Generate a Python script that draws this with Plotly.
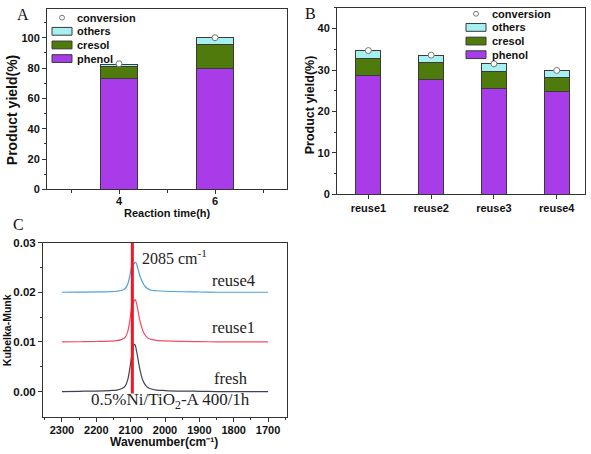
import plotly.graph_objects as go

# ---------------- data ----------------
# Panel A
time_h = [4, 6]
a_phenol = [73.2, 79.6]
a_cresol = [7.9, 16.2]
a_others = [1.3, 4.1]
a_conversion = [82.8, 100.0]

# Panel B
reuse_cats = ["reuse1", "reuse2", "reuse3", "reuse4"]
b_phenol = [28.6, 27.7, 25.6, 24.7]
b_cresol = [4.1, 4.1, 4.0, 3.5]
b_others = [2.0, 1.8, 1.9, 1.6]
b_conversion = [34.7, 33.6, 31.5, 29.9]

# Panel C (DRIFTS spectra)
wavenumber = [2300, 2250, 2200, 2160, 2140, 2125, 2115, 2108, 2102, 2097, 2093, 2090,
              2087, 2084, 2080, 2076, 2072, 2068, 2063, 2057, 2050, 2040, 2025, 2000,
              1950, 1900, 1850, 1800, 1750, 1700]
fresh_km = [0.0, 0.00005, 0.0001, 0.0002, 0.0003, 0.0006, 0.0012, 0.0025, 0.0048, 0.0072,
            0.0088, 0.0095, 0.0094, 0.0086, 0.0071, 0.0055, 0.0041, 0.0030, 0.0020, 0.0013,
            0.0008, 0.0005, 0.0003, 0.0002, 0.0001, 0.00005, 0.0, 0.0, 0.0, 0.0]
reuse1_km = [0.0, 0.00003, 0.00008, 0.00015, 0.00025, 0.0005, 0.001, 0.0022, 0.0045, 0.0070,
             0.0078, 0.0082, 0.0085, 0.0081, 0.0068, 0.0053, 0.0040, 0.0030, 0.0020, 0.0013,
             0.0008, 0.0005, 0.0003, 0.0002, 0.0001, 0.00005, 0.0, 0.0, 0.0, 0.0]
reuse4_km = [0.0, 0.00003, 0.00006, 0.0001, 0.0002, 0.0004, 0.0008, 0.0017, 0.0034, 0.0052,
             0.0055, 0.0057, 0.0060, 0.0059, 0.0050, 0.0040, 0.0031, 0.0024, 0.0017, 0.0011,
             0.0007, 0.0004, 0.0003, 0.0002, 0.0001, 0.00005, 0.0, 0.0, 0.0, 0.0]
spectra_offsets = [0.0, 0.01, 0.02]
peak_line_x = [2095, 2095]
peak_line_y = [-0.0004, 0.03]

# ---------------- style ----------------
W, H = 591, 454
C_PHENOL = "#A83CE8"
C_CRESOL = "#4F7A0C"
C_OTHERS = "#A6F0F2"
C_EDGE = "#3A3A3A"
SANS = "Liberation Sans"
SERIF = "Liberation Serif"
AX = "#333333"


def px(x):
    return x / W


def py(y):
    return 1 - y / H


fig = go.Figure()

# Panel A bars
for name, vals, col in [("phenol", a_phenol, C_PHENOL), ("cresol", a_cresol, C_CRESOL),
                        ("others", a_others, C_OTHERS)]:
    fig.add_trace(go.Bar(x=time_h, y=vals, name=name, marker=dict(color=col, line=dict(color=C_EDGE, width=1)),
                         width=0.78, xaxis="x", yaxis="y", showlegend=False))
fig.add_trace(go.Scatter(x=time_h, y=a_conversion, mode="markers", name="conversion",
                         marker=dict(symbol="circle", size=6, color="white", line=dict(color="#777777", width=1)),
                         xaxis="x", yaxis="y", showlegend=False))

# Panel B bars
for name, vals, col in [("phenol", b_phenol, C_PHENOL), ("cresol", b_cresol, C_CRESOL),
                        ("others", b_others, C_OTHERS)]:
    fig.add_trace(go.Bar(x=reuse_cats, y=vals, name=name, marker=dict(color=col, line=dict(color=C_EDGE, width=1)),
                         width=0.4, xaxis="x2", yaxis="y2", showlegend=False))
fig.add_trace(go.Scatter(x=reuse_cats, y=b_conversion, mode="markers", name="conversion",
                         marker=dict(symbol="circle", size=6, color="white", line=dict(color="#777777", width=1)),
                         xaxis="x2", yaxis="y2", showlegend=False))

# Panel C spectra
for vals, off, col, nm in [(fresh_km, spectra_offsets[0], "#3E4452", "fresh"),
                           (reuse1_km, spectra_offsets[1], "#F04D68", "reuse1"),
                           (reuse4_km, spectra_offsets[2], "#4C9FE0", "reuse4")]:
    fig.add_trace(go.Scatter(x=wavenumber, y=[v + off for v in vals], mode="lines", name=nm,
                             line=dict(color=col, width=1.2, shape="spline"),
                             xaxis="x3", yaxis="y3", showlegend=False))
fig.add_trace(go.Scatter(x=peak_line_x, y=peak_line_y, mode="lines", name="2085",
                         line=dict(color="#F01828", width=3), xaxis="x3", yaxis="y3", showlegend=False))

tickfont = dict(family=SANS, size=11, color="#111111", weight="bold")
common = dict(showline=True, linecolor=AX, linewidth=1, mirror=True, ticks="outside", ticklen=4,
              tickcolor=AX, showgrid=False, zeroline=False, title=None)

fig.update_layout(
    width=W, height=H, margin=dict(l=0, r=0, t=0, b=0),
    paper_bgcolor="white", plot_bgcolor="white", barmode="stack",
    xaxis=dict(domain=[px(47), px(287)], anchor="y", range=[2.5, 7.5], tickvals=time_h,
               ticklabelstandoff=-3, tickfont=tickfont,
               minor=dict(dtick=1, tick0=3, ticks="outside", ticklen=3, tickcolor=AX), **common),
    yaxis=dict(domain=[py(188.3), py(3)], anchor="x", range=[0, 119], dtick=20, tickfont=tickfont,
               minor=dict(dtick=10, ticks="outside", ticklen=2, tickcolor=AX), **common),
    xaxis2=dict(domain=[px(337), px(585)], anchor="y2", range=[-0.5, 3.45], type="category",
                tickfont=tickfont, **common),
    yaxis2=dict(domain=[py(193.3), py(2)], anchor="x2", range=[0, 45], dtick=10, tickfont=tickfont,
                minor=dict(dtick=5, ticks="outside", ticklen=2, tickcolor=AX), **common),
    xaxis3=dict(domain=[px(43), px(287)], anchor="y3", range=[2355, 1645], dtick=100, tickfont=tickfont,
                ticklabelstandoff=-1,
                minor=dict(dtick=50, ticks="outside", ticklen=2, tickcolor=AX), **common),
    yaxis3=dict(domain=[py(422), py(243)], anchor="x3", range=[-0.0051, 0.03], tickvals=[0, 0.01, 0.02, 0.03],
                tickformat=".2f", tickfont=dict(tickfont, size=11.5),
                minor=dict(tickvals=[0.005, 0.015, 0.025], ticks="outside", ticklen=2, tickcolor=AX), **common),
)

# axis titles (placed as annotations for exact positioning)
axis_titles = [
    ("Product yield(%)", 12, 107, 14, -90),
    ("Reaction time(h)", 167, 213, 11, 0),
    ("Product yield(%)", 310, 102, 12.5, -90),
    ("Kubelka-Munk", 7, 333, 10.5, -90),
    ("Wavenumber(cm\u207b\u00b9)", 164, 447.5, 12, 0),
]
for text, x, y, size, ang in axis_titles:
    fig.add_annotation(text=text, xref="paper", yref="paper", x=px(x), y=py(y),
                       xanchor="center", yanchor="middle", showarrow=False, textangle=ang, borderpad=0,
                       font=dict(family=SANS, size=size, color="#111111", weight="bold"))

# manual legends (compact Origin-style legend boxes)
legend_items = [("conversion", None), ("others", C_OTHERS), ("cresol", C_CRESOL), ("phenol", C_PHENOL)]
for (sx0, sx1, tx, y0) in [(52, 72, 75, 12), (466, 486, 490, 8)]:
    for i, (label, col) in enumerate(legend_items):
        yc = y0 + i * 14
        if col is None:
            cx = (sx0 + sx1) / 2
            fig.add_shape(type="circle", xref="paper", yref="paper",
                          x0=px(cx - 2.5), x1=px(cx + 2.5), y0=py(yc + 2.5), y1=py(yc - 2.5),
                          line=dict(color="#777777", width=1), fillcolor="white")
        else:
            fig.add_shape(type="rect", xref="paper", yref="paper",
                          x0=px(sx0), x1=px(sx1), y0=py(yc + 4), y1=py(yc - 4),
                          line=dict(color=C_EDGE, width=1), fillcolor=col)
        fig.add_annotation(text=label, xref="paper", yref="paper", x=px(tx), y=py(yc),
                           xanchor="left", yanchor="middle", showarrow=False,
                           font=dict(family=SANS, size=11, color="#111111", weight="bold"))

# panel letters
for letter, x, y in [("A", 23, 9), ("B", 310, 8), ("C", 18, 224)]:
    fig.add_annotation(text=letter, xref="paper", yref="paper", x=px(x), y=py(y),
                       xanchor="center", yanchor="middle", showarrow=False,
                       font=dict(family=SERIF, size=16, color="#111111"))

# panel C labels
serif_font = dict(family=SERIF, size=16.5, color="#222222")
fig.add_annotation(text="2085 cm<sup>-1</sup>", x=2073, y=0.0271, xref="x3", yref="y3",
                   xanchor="left", yanchor="middle", showarrow=False, font=dict(serif_font, size=16))
fig.add_annotation(text="reuse4", x=1801, y=0.0224, xref="x3", yref="y3",
                   xanchor="center", yanchor="middle", showarrow=False, font=serif_font)
fig.add_annotation(text="reuse1", x=1801, y=0.0129, xref="x3", yref="y3",
                   xanchor="center", yanchor="middle", showarrow=False, font=serif_font)
fig.add_annotation(text="fresh", x=1807, y=0.0026, xref="x3", yref="y3",
                   xanchor="center", yanchor="middle", showarrow=False, font=serif_font)
fig.add_annotation(text="0.5%Ni/TiO<sub>2</sub>-A 400/1h", x=1985, y=-0.0019, xref="x3", yref="y3",
                   xanchor="center", yanchor="middle", showarrow=False, font=dict(serif_font, size=17))

fig.write_html("out.html", config={"displayModeBar": False},
               post_script="document.body.style.margin='0';document.body.style.padding='0';")
